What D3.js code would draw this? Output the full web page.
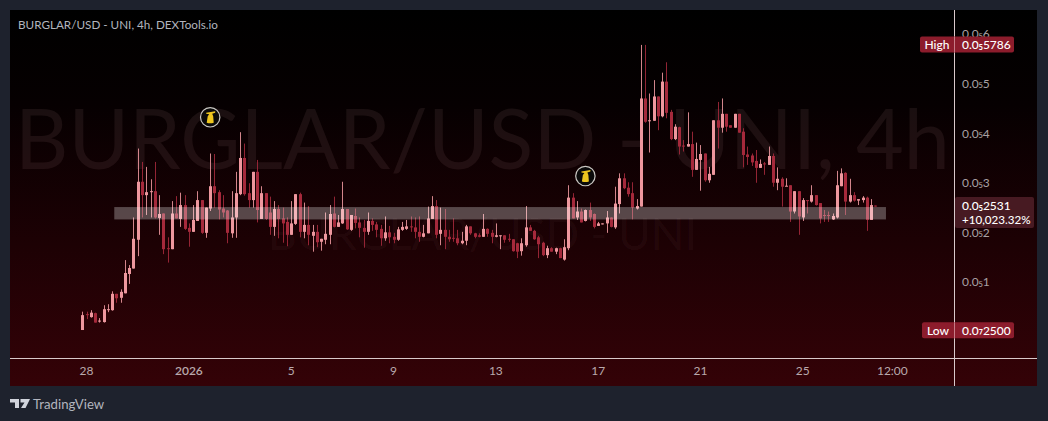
<!DOCTYPE html>
<html><head><meta charset="utf-8">
<script src="https://cdn.jsdelivr.net/npm/d3@7/dist/d3.min.js"></script>
<style>html,body{margin:0;padding:0;background:#1e222d;overflow:hidden}svg{display:block}text{font-family:Lato,"Noto Sans",sans-serif}</style>
</head><body><svg id="c" width="1048" height="421"></svg>
<script>
// prices in units of 0.0₅1 (1e-6 USD)
const opens=[.03,.35,.29,.37,.20,.19,.43,.43,.76,.68,.77,1.16,1.27,1.85,3.02,2.75,2.81,2.83,2.29,2.38,1.68,1.66,2.38,2.27,2.55,2.09,2.01,2.23,2.65,1.99,2.48,2.93,2.81,2.48,2.44,1.98,2.30,2.77,3.50,2.79,2.65,3.22,2.27,2.79,2.40,2.11,2.47,2.28,2.21,1.95,2.17,2.77,2.01,2.15,1.93,2.01,1.81,1.85,1.95,2.38,2.11,2.18,2.47,2.05,2.33,2.20,2.09,2.01,2.23,2.16,2.07,1.88,2.00,1.91,1.85,2.05,2.07,2.12,2.10,2.01,1.91,1.98,2.27,2.53,1.97,2.05,1.91,1.89,1.88,1.78,1.83,2.12,1.98,1.94,1.91,2.07,1.99,1.91,1.93,1.94,1.87,1.86,1.78,1.62,1.74,2.10,2.03,1.90,1.79,1.54,1.68,1.61,1.68,1.45,1.68,2.70,2.30,2.42,2.23,2.45,2.37,2.13,2.17,2.18,2.30,2.10,2.57,3.09,2.90,2.79,2.48,2.52,4.70,4.25,4.25,4.74,4.34,5.04,4.43,3.88,4.12,3.75,3.73,3.78,3.26,3.46,3.59,3.05,3.16,4.26,4.11,4.39,4.16,4.11,4.39,4.03,3.57,3.55,3.44,3.30,3.39,3.36,3.54,3.00,3.08,2.93,2.95,2.42,2.83,2.30,2.65,2.62,2.75,2.59,2.35,2.35,2.26,2.30,2.93,3.20,2.62,2.75,2.64,2.65,2.70,2.25,2.54];
const closes=[.33,.33,.38,.18,.22,.45,.45,.76,.67,.80,1.18,1.28,1.87,3.02,2.75,2.81,2.83,2.30,2.37,1.66,1.66,2.38,2.28,2.55,2.07,2.01,2.25,2.65,1.99,2.50,2.93,2.79,2.46,2.40,1.99,2.30,2.79,3.50,2.77,2.65,3.22,2.45,2.79,2.27,2.11,2.47,2.27,2.18,1.95,2.18,2.77,2.01,2.15,1.95,2.01,1.80,1.87,1.97,2.37,2.11,2.20,2.47,2.06,2.35,2.19,2.09,2.01,2.23,2.15,2.05,1.88,2.00,1.90,1.85,2.06,2.11,2.12,2.11,2.01,1.91,1.98,2.28,2.53,1.95,2.05,1.91,1.86,1.88,1.78,1.83,2.12,1.98,1.91,1.91,2.07,1.97,1.91,1.94,1.94,1.85,1.85,1.62,1.61,1.78,2.10,2.03,1.86,1.76,1.54,1.68,1.61,1.68,1.48,1.70,2.70,2.28,2.42,2.20,2.45,2.30,2.11,2.18,2.18,2.30,2.11,2.58,3.09,2.89,2.77,2.50,2.53,4.70,4.23,4.26,4.74,4.34,5.04,4.41,3.88,4.13,3.73,3.73,3.78,3.26,3.48,3.58,3.05,3.18,4.26,4.11,4.39,4.13,4.11,4.39,4.01,3.56,3.52,3.41,3.30,3.38,3.38,3.54,3.00,3.08,2.92,2.94,2.42,2.83,2.32,2.65,2.64,2.75,2.55,2.28,2.34,2.34,2.33,2.95,3.19,2.62,2.75,2.64,2.67,2.70,2.25,2.55,2.53];
const highs=[.40,.40,.43,.38,.27,.53,.55,.81,.76,.85,1.44,1.34,2.30,3.69,3.42,3.32,3.07,3.42,2.75,2.38,1.90,2.63,2.73,2.80,2.75,2.18,2.55,2.83,2.65,2.50,3.59,3.58,2.85,2.75,2.45,2.83,3.22,4.02,3.79,2.99,3.22,3.46,2.93,2.79,2.72,2.63,2.55,2.50,2.30,2.63,2.77,2.80,2.60,2.53,2.15,2.15,1.87,2.40,2.55,2.72,2.35,3.02,2.47,2.35,2.48,2.30,2.25,2.40,2.28,2.21,2.15,2.32,2.13,1.99,2.11,2.21,2.25,2.32,2.30,2.32,2.15,2.52,2.73,2.65,2.50,2.47,2.05,2.28,2.05,2.01,2.15,2.12,1.99,1.98,2.37,2.08,2.05,2.18,1.94,1.94,1.97,1.86,1.79,1.88,2.53,2.15,2.05,1.93,1.81,1.73,1.70,1.69,1.69,1.86,2.95,2.79,2.63,2.48,2.46,2.60,2.38,2.21,2.18,2.43,2.30,2.92,3.19,3.19,3.01,3.01,2.67,5.78,5.78,4.80,5.07,4.74,5.22,5.43,4.47,4.18,4.13,3.86,4.42,4.03,3.81,3.76,3.59,3.32,4.26,4.63,4.70,4.39,4.16,4.39,4.39,4.10,3.73,3.59,3.66,3.47,3.42,3.73,3.59,3.31,3.11,3.09,2.95,2.83,2.83,2.69,2.65,2.95,2.75,2.59,2.45,2.42,2.38,3.24,3.29,3.21,3.08,2.81,2.67,2.73,2.72,2.67,2.54];
const lows=[.03,.25,.28,.18,.18,.18,.39,.42,.58,.58,.77,.96,1.27,1.52,2.30,2.35,2.30,2.28,1.95,1.56,1.39,1.66,2.28,2.11,2.05,1.71,2.01,2.23,1.97,1.89,2.43,2.50,2.26,2.30,1.78,1.89,1.89,2.75,2.74,2.50,2.50,2.20,2.27,2.25,1.95,1.93,1.88,1.79,1.72,1.95,2.15,1.90,1.88,1.74,1.61,1.70,1.63,1.76,1.76,2.10,2.11,2.17,2.05,2.03,2.08,1.90,1.69,1.95,2.03,1.90,1.73,1.83,1.78,1.78,1.83,2.03,2.05,2.01,1.88,1.81,1.90,1.98,2.27,1.88,1.74,1.66,1.81,1.81,1.74,1.76,1.74,1.95,1.88,1.90,1.91,1.91,1.78,1.90,1.66,1.79,1.81,1.61,1.48,1.53,1.71,2.03,1.85,1.48,1.52,1.48,1.61,1.56,1.48,1.43,1.64,2.28,2.25,2.20,2.22,2.23,2.08,2.13,2.17,1.99,2.10,2.07,2.38,2.87,2.72,2.26,2.46,2.52,4.21,3.61,4.25,4.06,4.32,4.30,3.86,3.86,3.57,3.63,3.73,3.12,3.26,2.84,3.02,3.00,3.16,3.69,4.01,4.03,4.11,4.11,4.01,3.31,3.36,3.34,3.00,3.30,3.16,3.36,2.92,2.85,2.52,2.93,2.21,2.38,1.95,2.23,2.38,2.60,2.54,2.18,2.21,2.21,2.25,2.28,2.93,2.35,2.60,2.62,2.55,2.60,2.03,2.25,2.53];
const firstCandle="2025-12-27T20:00:00Z";
const priceTicks=[1,2,3,4,5,6];
const timeTicks=[["2025-12-28T00:00:00Z","28"],["2026-01-01T00:00:00Z","2026"],["2026-01-05T00:00:00Z","5"],["2026-01-09T00:00:00Z","9"],["2026-01-13T00:00:00Z","13"],["2026-01-17T00:00:00Z","17"],["2026-01-21T00:00:00Z","21"],["2026-01-25T00:00:00Z","25"],["2026-01-28T12:00:00Z","12:00"]];
const bandPrices=[2.26,2.51];
const bandTimes=["2025-12-29T02:00:00Z","2026-01-28T06:00:00Z"];
const markers=[[30,4.32],[118,3.135]];
const highValue=5.786, lowValue=0.025, lastValue=2.531;
const title="BURGLAR/USD - UNI, 4h, DEXTools.io";
const H4=4*3600*1000, t0=new Date(firstCandle).getTime();
const candles=opens.map((o,i)=>({t:new Date(t0+i*H4),o,c:closes[i],h:highs[i],l:lows[i]}));

const svg=d3.select("#c");
const L=10,R=1037,T=10,B=386,paneR=954,paneB=358;
const x=d3.scaleUtc().domain([new Date(t0),new Date(t0+186*H4)]).range([82.3,875.3]);
const y=d3.scaleLinear().domain([0,6]).range([331.5,34]);

const defs=svg.append("defs");
const g=defs.append("linearGradient").attr("id","bg").attr("x1",0).attr("x2",0).attr("y1",0).attr("y2",1);
g.append("stop").attr("offset","0").attr("stop-color","#000000");
g.append("stop").attr("offset","0.25").attr("stop-color","#060001");
g.append("stop").attr("offset","1").attr("stop-color","#340207");
svg.append("rect").attr("width",1048).attr("height",421).attr("fill","#1e222d");
svg.append("rect").attr("x",L).attr("y",T).attr("width",R-L).attr("height",B-T).attr("fill","url(#bg)");

// watermark, sized to the span it covers
function mark(txt,left,right,base,fill){
  const t=svg.append("text").attr("x",left).attr("y",base).attr("font-size",100).attr("fill",fill).text(txt);
  t.attr("font-size",100*(right-left)/t.node().getComputedTextLength());
}
mark("BURGLAR/USD - UNI, 4h",15,950,169,"rgba(255,190,200,0.08)");
mark("BURGLAR/USD - UNI",268,697,250,"rgba(255,200,210,0.05)");

// candles
const cg=svg.append("g");
const up="#ee979e",dn="#a5293b";
const col=d=>d.c>=d.o?up:dn;
cg.selectAll("rect.w").data(candles).join("rect").attr("class","w")
 .attr("x",d=>Math.round(x(d.t))).attr("width",1)
 .attr("y",d=>y(d.h)).attr("height",d=>Math.max(1,y(d.l)-y(d.h))).attr("fill",col).attr("opacity",.88);
cg.selectAll("rect.b").data(candles).join("rect").attr("class","b")
 .attr("x",d=>Math.round(x(d.t))-1).attr("width",3)
 .attr("y",d=>y(Math.max(d.o,d.c))).attr("height",d=>Math.max(1,Math.abs(y(d.o)-y(d.c)))).attr("fill",col);

// support band
svg.append("rect").attr("x",x(new Date(bandTimes[0]))).attr("width",x(new Date(bandTimes[1]))-x(new Date(bandTimes[0])))
 .attr("y",y(bandPrices[1])).attr("height",y(bandPrices[0])-y(bandPrices[1])).attr("fill","rgba(255,255,255,0.28)");

// markers
const m=svg.selectAll("g.m").data(markers).join("g").attr("class","m")
 .attr("transform",d=>`translate(${x(new Date(t0+d[0]*H4))},${y(d[1])})`);
m.append("circle").attr("r",9.7).attr("fill","#0a0a0a").attr("stroke","#c9c6c2").attr("stroke-width",1.2);
m.append("path").attr("fill","#edc51f").attr("d","M-2.5,-1 L-1,-3 L-4,-3.5 L-4,-4.5 L5,-6 L5,-4.5 L2,-3.5 L3,-1 L3.5,5.5 Q0,6.5 -3.5,5.5 Z");

// frame lines
svg.append("line").attr("x1",L).attr("x2",R).attr("y1",paneB+.5).attr("y2",paneB+.5).attr("stroke","#d9c9cb");
svg.append("line").attr("x1",paneR+.5).attr("x2",paneR+.5).attr("y1",T).attr("y2",B).attr("stroke","#d9c9cb");

// text with the subscript glyph nudged up to sit like the reference's
function fillSub(sel,s){
  sel.text(null);
  s.split(/([₀-₉])/).filter(Boolean).forEach(part=>{
    const isSub=/[₀-₉]/.test(part);
    const t=sel.append("tspan").text(part);
    if(isSub) t.attr("dy","-1.5").attr("font-family",'"Noto Sans"').attr("font-size",11.5);
    else if(sel.selectAll("tspan").size()>1) t.attr("dy","1.5");
  });
}

// axes
const xAxis=d3.axisBottom(x).tickValues(timeTicks.map(d=>new Date(d[0]))).tickSize(0).tickPadding(0)
 .tickFormat((d,i)=>timeTicks[i][1]);
const ax=svg.append("g").attr("transform",`translate(-0.5,${paneB+8})`).call(xAxis);
ax.select(".domain").remove();
ax.selectAll("text").attr("font-size",12).attr("font-family",'Lato,sans-serif').attr("fill","#b9a9ac").attr("dy","0.71em");
ax.selectAll(".tick").filter((d,i)=>i===1).select("text").attr("font-weight",600);

const yAxis=d3.axisRight(y).tickValues(priceTicks).tickSize(0).tickPadding(0).tickFormat(d=>"0.0₅"+d);
const ay=svg.append("g").attr("transform",`translate(962,0)`).call(yAxis);
ay.select(".domain").remove();
ay.selectAll("text").attr("font-size",12).attr("font-family",'Lato,sans-serif').attr("fill","#a8a0a3")
  .each(function(d){fillSub(d3.select(this),"0.0₅"+d);});

// title
svg.append("text").attr("x",18).attr("y",29).attr("font-size",11.7).attr("fill","#b2b5be").text(title);

// price labels
function tag(v,left,text,name){
  const cy=y(v);
  svg.append("rect").attr("x",left).attr("y",cy-8).attr("width",1014-left).attr("height",16).attr("rx",2).attr("fill","#8c1c2c");
  svg.append("line").attr("x1",paneR+.5).attr("x2",paneR+.5).attr("y1",cy-8).attr("y2",cy+8).attr("stroke","#c77c86");
  svg.append("text").attr("x",left+(paneR-left)/2).attr("y",cy+4.4).attr("text-anchor","middle").attr("font-size",12).attr("font-weight",500).attr("fill","#fff").text(name);
  fillSub(svg.append("text").attr("x",962).attr("y",cy+4.4).attr("font-size",12).attr("font-weight",500).attr("fill","#fff"),text);
}
tag(highValue,920,"0.0₅5786","High");
tag(lowValue,922,"0.0₇2500","Low");
const ly=y(lastValue);
svg.append("rect").attr("x",955).attr("y",ly-9).attr("width",79).attr("height",31).attr("rx",2).attr("fill","#471a22");
fillSub(svg.append("text").attr("x",962).attr("y",ly+4).attr("font-size",12).attr("font-weight",500).attr("fill","#fff"),"0.0₅2531");
svg.append("text").attr("x",962).attr("y",ly+18).attr("font-size",11.6).attr("font-weight",500).attr("fill","#fff").text("+10,023.32%");

// logo
svg.append("path").attr("fill","#d1d4dc").attr("d","M10,399 H19 V408 H15 V402.5 H10 Z M20.5,399 H30 L25.5,408 H21 L24.5,402.5 H20.5 Z");
svg.append("text").attr("x",33).attr("y",408.5).attr("font-size",13.2).attr("fill","#b2b5be").text("TradingView");
</script></body></html>
